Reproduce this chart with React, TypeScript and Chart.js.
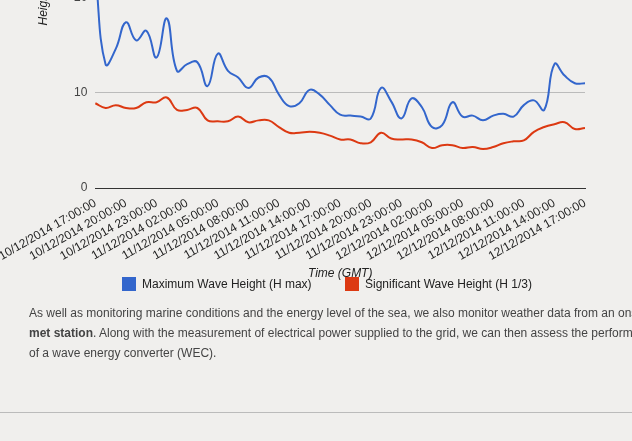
import React, { useEffect, useRef } from "react";
import { Chart, registerables } from "chart.js";
Chart.register(...registerables);

const hours = ["17", "18", "19", "20", "21", "22", "23", "00", "01", "02", "03", "04", "05", "06", "07", "08", "09", "10", "11", "12", "13", "14", "15", "16"];
const categories: string[] = [];
for (let i = 0; i <= 48; i++) {
  const day = i < 7 ? "10" : i < 31 ? "11" : "12";
  categories.push(`${day}/12/2014 ${hours[i % 24]}:00:00`);
}
const hMax = [22.5, 13.0, 14.6, 17.4, 15.5, 16.5, 13.7, 17.8, 12.3, 13.0, 13.2, 10.7, 14.1, 12.3, 11.6, 10.5, 11.6, 11.6, 9.8, 8.6, 8.9, 10.3, 9.8, 8.7, 7.7, 7.6, 7.5, 7.3, 10.5, 9.1, 7.3, 9.4, 8.5, 6.4, 6.6, 9.0, 7.5, 7.6, 7.1, 7.6, 7.8, 7.5, 8.7, 9.2, 8.2, 13.0, 11.8, 11.0, 11.0];
const hSig = [8.9, 8.4, 8.7, 8.4, 8.4, 9.0, 9.0, 9.5, 8.2, 8.2, 8.4, 7.1, 7.0, 7.0, 7.5, 6.9, 7.1, 7.1, 6.4, 5.8, 5.8, 5.9, 5.8, 5.5, 5.1, 5.1, 4.7, 4.8, 5.8, 5.2, 5.1, 5.1, 4.8, 4.2, 4.5, 4.5, 4.2, 4.3, 4.1, 4.3, 4.7, 4.9, 5.0, 5.9, 6.4, 6.7, 6.9, 6.2, 6.3];
const yTicks = [0, 10, 20, 30, 40];
const seriesNames = ["Maximum Wave Height (H max)", "Significant Wave Height (H 1/3)"];
const seriesColors = ["#3366cc", "#dc3912"];

export default function App() {
  const ref = useRef<HTMLCanvasElement>(null);
  useEffect(() => {
    const font = { family: "Arial, 'Liberation Sans', sans-serif", size: 12 };
    const chart = new Chart(ref.current!, {
      type: "line",
      data: {
        labels: categories,
        datasets: [
          { label: seriesNames[0], data: hMax, borderColor: seriesColors[0], backgroundColor: seriesColors[0], borderWidth: 2, pointRadius: 0, tension: 0.45 },
          { label: seriesNames[1], data: hSig, borderColor: seriesColors[1], backgroundColor: seriesColors[1], borderWidth: 2, pointRadius: 0, tension: 0.45 },
        ],
      },
      options: {
        animation: false,
        responsive: false,
        layout: { padding: { top: 27, right: 47, left: 23, bottom: 0 } },
        plugins: { tooltip: { enabled: false }, legend: { display: false } },
        scales: {
          x: {
            offset: false,
            grid: { display: false },
            border: { color: "#333", width: 1 },
            ticks: {
              autoSkip: false,
              minRotation: 30,
              maxRotation: 30,
              color: "#222",
              font,
              padding: 0,
              callback: (_v: any, i: number) => (i % 3 === 0 ? categories[i] : null),
            },
            title: { display: true, text: "Time (GMT)", color: "#222", font: { ...font, style: "italic" } },
            afterFit: (s: any) => { s.height = 97; },
          },
          y: {
            min: 0,
            max: 40,
            afterBuildTicks: (s: any) => { s.ticks = yTicks.map((v) => ({ value: v })); },
            grid: { color: (c: any) => (c.tick.value === 0 ? "#333" : "#bbb"), drawTicks: false },
            border: { display: false },
            ticks: { color: "#444", font, padding: 8 },
            title: { display: true, text: "Height (m)", color: "#222", font: { ...font, style: "italic" } },
            afterFit: (s: any) => { s.width = 63; },
          },
        },
      },
    });
    return () => chart.destroy();
  }, []);
  return (
    <div style={{ position: "absolute", left: 0, top: 0, width: 632, height: 441, overflow: "hidden", background: "#f0efed", fontFamily: "Arial, 'Liberation Sans', sans-serif" }}>
      <canvas ref={ref} width={632} height={505} style={{ position: "absolute", left: 0, top: -220 }} />
      <div style={{ position: "absolute", left: 122, top: 277, fontSize: 12, color: "#222", whiteSpace: "nowrap", display: "flex" }}>
        {seriesNames.map((n, i) => (
          <div key={n} style={{ display: "flex", alignItems: "center", width: i === 0 ? 223 : "auto" }}>
            <span style={{ display: "inline-block", width: 14, height: 14, background: seriesColors[i], marginRight: 6 }} />
            <span>{n}</span>
          </div>
        ))}
      </div>
      <div style={{ position: "absolute", left: 29, top: 303, fontSize: 12, lineHeight: "20px", color: "#444", whiteSpace: "nowrap" }}>
        <div>As well as monitoring marine conditions and the energy level of the sea, we also monitor weather data from an onsite</div>
        <div><b>met station</b>. Along with the measurement of electrical power supplied to the grid, we can then assess the performance</div>
        <div>of a wave energy converter (WEC).</div>
      </div>
      <div style={{ position: "absolute", left: 0, top: 412, width: 632, height: 1, background: "#bbb" }} />
    </div>
  );
}
